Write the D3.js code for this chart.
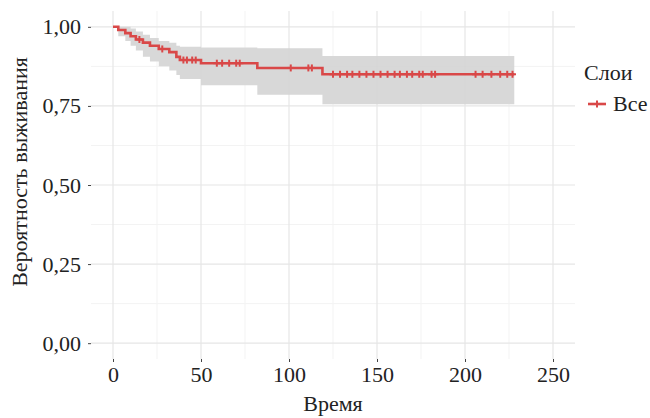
<!DOCTYPE html>
<html>
<head>
<meta charset="utf-8">
<script src="https://cdn.jsdelivr.net/npm/d3@7"></script>
<style>
  html, body { margin: 0; padding: 0; background: #fff; }
  svg { display: block; }
  text { font-family: "Liberation Serif", "Times New Roman", serif; fill: #222; }
</style>
</head>
<body>
<svg id="chart" width="650" height="418"></svg>
<script>
// Kaplan–Meier estimate: step times, survival and 95% confidence limits
const eventTimes = [0, 3, 7, 10, 13, 17, 21, 26, 32, 36, 38, 50, 82, 119];
const survival   = [1.00, 0.99, 0.98, 0.97, 0.96, 0.95, 0.94, 0.93, 0.92, 0.905, 0.895, 0.885, 0.87, 0.85];
const upperCI    = [1.00, 1.00, 1.00, 0.995, 0.985, 0.975, 0.965, 0.955, 0.95, 0.94, 0.937, 0.935, 0.932, 0.908];
const lowerCI    = [1.00, 0.97, 0.955, 0.94, 0.925, 0.905, 0.89, 0.875, 0.862, 0.848, 0.835, 0.815, 0.785, 0.755];
const lastTime   = 228;

// censored observations
const censorTimes = [15, 28, 40, 42, 45, 47, 59, 62, 66, 70, 72, 101, 111, 113,
  125, 129, 133, 136, 140, 144, 148, 152, 156, 160, 163, 167, 170, 174, 176, 181, 183,
  206, 210, 215, 220, 224, 227];

const xTicks = [0, 50, 100, 150, 200, 250];
const yTicks = [0, 0.25, 0.5, 0.75, 1];
const xMinor = [25, 75, 125, 175, 225];
const yMinor = [0.125, 0.375, 0.625, 0.875];

const xTitle = "Время";
const yTitle = "Вероятность выживания";
const legendTitle = "Слои";
const strataNames = ["Все"];
const strataColors = ["#d94848"];

const svg = d3.select("#chart");
const panel = { left: 91, right: 575, top: 11, bottom: 359 };

const x = d3.scaleLinear().domain([-12.5, 262.5]).range([panel.left, panel.right]);
const y = d3.scaleLinear().domain([-0.05, 1.05]).range([panel.bottom, panel.top]);

const fmt = v => d3.format(".2f")(v).replace(".", ",");

// grid
const grid = svg.append("g");
grid.selectAll(".vmin").data(xMinor).join("line")
  .attr("x1", d => x(d)).attr("x2", d => x(d))
  .attr("y1", panel.top).attr("y2", panel.bottom)
  .attr("stroke", "#f3f3f3").attr("stroke-width", 1);
grid.selectAll(".hmin").data(yMinor).join("line")
  .attr("y1", d => y(d)).attr("y2", d => y(d))
  .attr("x1", panel.left).attr("x2", panel.right)
  .attr("stroke", "#f3f3f3").attr("stroke-width", 1);
grid.selectAll(".vmaj").data(xTicks).join("line")
  .attr("x1", d => x(d)).attr("x2", d => x(d))
  .attr("y1", panel.top).attr("y2", panel.bottom)
  .attr("stroke", "#e6e6e6").attr("stroke-width", 1.2);
grid.selectAll(".hmaj").data(yTicks).join("line")
  .attr("y1", d => y(d)).attr("y2", d => y(d))
  .attr("x1", panel.left).attr("x2", panel.right)
  .attr("stroke", "#e6e6e6").attr("stroke-width", 1.2);

// step data
const steps = eventTimes.map((t, i) => ({ t, s: survival[i], lo: lowerCI[i], hi: upperCI[i] }));
steps.push({ t: lastTime, s: survival[survival.length - 1], lo: lowerCI[lowerCI.length - 1], hi: upperCI[upperCI.length - 1] });

// confidence band
const band = d3.area()
  .curve(d3.curveStepAfter)
  .x(d => x(d.t))
  .y0(d => y(d.lo))
  .y1(d => y(d.hi));
svg.append("path").datum(steps)
  .attr("d", band)
  .attr("fill", "#d4d4d4")
  .attr("fill-opacity", 0.9);

// survival curve
const line = d3.line().curve(d3.curveStepAfter).x(d => x(d.t)).y(d => y(d.s));
svg.append("path").datum(steps)
  .attr("d", line)
  .attr("fill", "none")
  .attr("stroke", strataColors[0])
  .attr("stroke-width", 2.6);

// survival value at time t
const survAt = t => {
  let s = survival[0];
  eventTimes.forEach((et, i) => { if (et <= t) s = survival[i]; });
  return s;
};

// censor marks (+)
const plus = 3.5;
const marks = svg.append("g").attr("stroke", strataColors[0]).attr("stroke-width", 2);
censorTimes.forEach(t => {
  const cx = x(t), cy = y(survAt(t));
  marks.append("line").attr("x1", cx - plus).attr("x2", cx + plus).attr("y1", cy).attr("y2", cy);
  marks.append("line").attr("x1", cx).attr("x2", cx).attr("y1", cy - plus).attr("y2", cy + plus);
});

// axes
const xAxis = d3.axisBottom(x).tickValues(xTicks).tickSize(3).tickPadding(4).tickFormat(d3.format("d"));
const gx = svg.append("g").attr("transform", `translate(0,${panel.bottom})`).call(xAxis);
gx.select(".domain").remove();
gx.selectAll("line").attr("stroke", "#444");
gx.selectAll("text").attr("font-size", 22).attr("fill", "#222").attr("font-family", "Liberation Serif");

const yAxis = d3.axisLeft(y).tickValues(yTicks).tickSize(3).tickPadding(7).tickFormat(fmt);
const gy = svg.append("g").attr("transform", `translate(${panel.left},0)`).call(yAxis);
gy.select(".domain").remove();
gy.selectAll("line").attr("stroke", "#444");
gy.selectAll("text").attr("font-size", 22).attr("fill", "#222").attr("font-family", "Liberation Serif");

// axis titles
svg.append("text")
  .attr("x", (panel.left + panel.right) / 2)
  .attr("y", 411)
  .attr("text-anchor", "middle")
  .attr("font-size", 22)
  .text(xTitle);
svg.append("text")
  .attr("transform", `translate(27,172) rotate(-90)`)
  .attr("text-anchor", "middle")
  .attr("font-size", 22)
  .text(yTitle);

// legend
const legend = svg.append("g").attr("transform", "translate(584,0)");
legend.append("text").attr("x", 0).attr("y", 80).attr("font-size", 22).text(legendTitle);
strataNames.forEach((name, i) => {
  const ly = 104 + i * 24;
  legend.append("line").attr("x1", 4).attr("x2", 22).attr("y1", ly).attr("y2", ly)
    .attr("stroke", strataColors[i]).attr("stroke-width", 2.6);
  legend.append("line").attr("x1", 13).attr("x2", 13).attr("y1", ly - plus).attr("y2", ly + plus)
    .attr("stroke", strataColors[i]).attr("stroke-width", 2);
  legend.append("text").attr("x", 29).attr("y", ly + 7).attr("font-size", 22).text(name);
});
</script>
</body>
</html>
